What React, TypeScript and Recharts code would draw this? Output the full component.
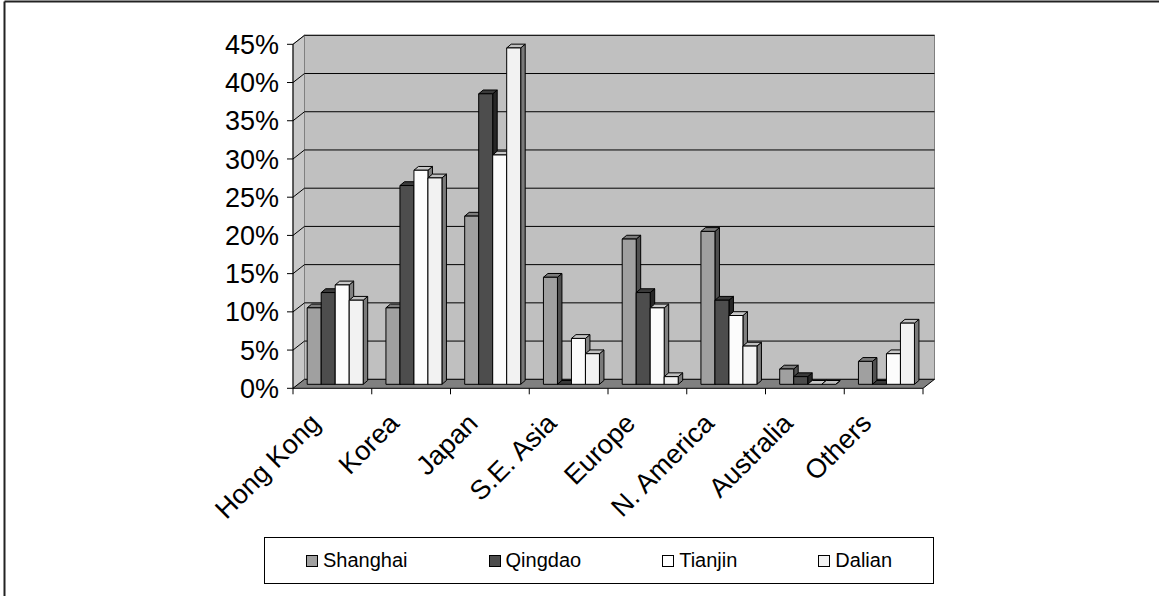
import React from "react";
import { Bar, BarChart, CartesianGrid, Legend, XAxis, YAxis } from "recharts";

const categories = ["Hong Kong", "Korea", "Japan", "S.E. Asia", "Europe", "N. America", "Australia", "Others"];
const shanghai = [10, 10, 22, 14, 19, 20, 2, 3];
const qingdao = [12, 26, 38, 0, 12, 11, 1, 0];
const tianjin = [13, 28, 30, 6, 10, 9, 0, 4];
const dalian = [11, 27, 44, 4, 1, 5, 0, 8];
const yTicks = [0, 5, 10, 15, 20, 25, 30, 35, 40, 45];

const series = [
  { key: "Shanghai", values: shanghai, front: "#a0a0a0", top: "#7c7c7c", side: "#505050" },
  { key: "Qingdao", values: qingdao, front: "#4d4d4d", top: "#3a3a3a", side: "#262626" },
  { key: "Tianjin", values: tianjin, front: "#fcfcfc", top: "#c8c8c8", side: "#808080" },
  { key: "Dalian", values: dalian, front: "#f2f2f2", top: "#c0c0c0", side: "#7a7a7a" },
];

const rows = categories.map((name, i) => {
  const row: Record<string, string | number> = { name };
  series.forEach((s) => (row[s.key] = s.values[i]));
  return row;
});

const W = 1159;
const H = 596;
const FONT = "'Liberation Sans', Arial, sans-serif";
// front plane of the plot
const LEFT = 293;
const RIGHT = 923;
const TOP = 44.3;
const BOTTOM = 388.3;
// wall depth
const DX = 11.5;
const DY = -9;
// bar position inside the depth, and bar depth
const OX = 3.6;
const OY = -4;
const BX = 4.5;
const BY = -3.8;

function Bar3D(props: any) {
  const { x, y, width, height, colors } = props;
  if (x == null || y == null) return null;
  const fx = x + OX;
  const fy = y + OY;
  const w = width;
  const h = Math.max(0, height);
  return (
    <g stroke="#000" strokeWidth={1} strokeLinejoin="round">
      <polygon
        points={`${fx + w},${fy} ${fx + w + BX},${fy + BY} ${fx + w + BX},${fy + h + BY} ${fx + w},${fy + h}`}
        fill={colors.side}
      />
      <polygon
        points={`${fx},${fy} ${fx + BX},${fy + BY} ${fx + w + BX},${fy + BY} ${fx + w},${fy}`}
        fill={colors.top}
      />
      <rect x={fx} y={fy} width={w} height={h} fill={colors.front} />
    </g>
  );
}

function GridLine(props: any) {
  const { x1, y1, x2, y2 } = props;
  return (
    <g stroke="#000" strokeWidth={1}>
      <line x1={x1} y1={y1} x2={x1 + DX} y2={y1 + DY} />
      <line x1={x1 + DX} y1={y1 + DY} x2={x2 + DX} y2={y2 + DY} />
    </g>
  );
}

function CategoryTick(props: any) {
  const { x, payload, index } = props;
  const band = (RIGHT - LEFT) / categories.length;
  const tx = x - 10.5;
  const ty = BOTTOM + 36.5;
  return (
    <g>
      <line x1={x - band / 2} y1={BOTTOM} x2={x - band / 2} y2={BOTTOM + 6} stroke="#000" />
      {index === categories.length - 1 && (
        <line x1={x + band / 2} y1={BOTTOM} x2={x + band / 2} y2={BOTTOM + 6} stroke="#000" />
      )}
      <text
        x={tx}
        y={ty}
        transform={`rotate(-45 ${tx} ${ty})`}
        textAnchor="end"
        fontSize={27}
        fontFamily={FONT}
        fill="#000"
      >
        {payload.value}
      </text>
    </g>
  );
}

function LegendBox() {
  return (
    <div
      style={{
        width: 670,
        height: 47,
        boxSizing: "border-box",
        border: "1px solid #000",
        display: "flex",
        alignItems: "center",
        paddingLeft: 41,
        gap: 81,
        fontFamily: FONT,
        fontSize: 20,
        color: "#000",
        background: "#fff",
      }}
    >
      {series.map((s) => (
        <div key={s.key} style={{ display: "flex", alignItems: "center" }}>
          <span
            style={{
              width: 12,
              height: 12,
              boxSizing: "border-box",
              border: "1px solid #000",
              background: s.key === "Tianjin" ? "#ffffff" : s.front,
              marginRight: 5,
            }}
          />
          <span>{s.key}</span>
        </div>
      ))}
    </div>
  );
}

export default function App() {
  return (
    <div style={{ position: "absolute", left: 0, top: 0, width: W, height: H, background: "#fff" }}>
      <svg width={W} height={H} style={{ position: "absolute", left: 0, top: 0 }}>
        <line x1={4.5} y1={1.5} x2={W} y2={1.5} stroke="#222" strokeWidth={2} />
        <line x1={4.5} y1={1.5} x2={4.5} y2={H} stroke="#222" strokeWidth={2} />
        <rect x={LEFT + DX} y={TOP + DY} width={RIGHT - LEFT} height={BOTTOM - TOP} fill="#c0c0c0" stroke="#808080" />
        <polygon
          points={`${LEFT},${TOP} ${LEFT + DX},${TOP + DY} ${LEFT + DX},${BOTTOM + DY} ${LEFT},${BOTTOM}`}
          fill="#c8c8c8"
          stroke="#808080"
        />
        <polygon
          points={`${LEFT},${BOTTOM} ${LEFT + DX},${BOTTOM + DY} ${RIGHT + DX},${BOTTOM + DY} ${RIGHT},${BOTTOM}`}
          fill="#808080"
        />
        <line x1={RIGHT} y1={BOTTOM} x2={RIGHT + DX} y2={BOTTOM + DY} stroke="#000" />
      </svg>
      <div style={{ position: "absolute", left: 0, top: 0 }}>
        <BarChart
          width={W}
          height={H}
          data={rows}
          margin={{ top: TOP, right: W - RIGHT, left: LEFT - 60, bottom: H - BOTTOM - 30 }}
          barCategoryGap={10.6}
          barGap={0}
        >
          <CartesianGrid horizontal={(p: any) => <GridLine key={p.key ?? p.index} {...p} />} vertical={false} fill="none" />
          <XAxis
            dataKey="name"
            height={30}
            axisLine={{ stroke: "#000" }}
            tickLine={false}
            interval={0}
            tick={<CategoryTick />}
          />
          <YAxis
            width={60}
            domain={[0, 45]}
            ticks={yTicks}
            interval={0}
            tickFormatter={(v) => `${v}%`}
            axisLine={{ stroke: "#000" }}
            tickLine={{ stroke: "#000" }}
            tickSize={6}
            tickMargin={8}
            tick={{ fontSize: 27, fill: "#000", fontFamily: FONT }}
          />
          <Legend
            layout="horizontal"
            verticalAlign="middle"
            wrapperStyle={{ left: 264, top: 537, width: 670, height: 47 }}
            content={() => <LegendBox />}
          />
          {series.map((s) => (
            <Bar
              key={s.key}
              dataKey={s.key}
              isAnimationActive={false}
              fill={s.front}
              shape={(p: any) => <Bar3D {...p} colors={s} />}
            />
          ))}
        </BarChart>
      </div>
    </div>
  );
}
